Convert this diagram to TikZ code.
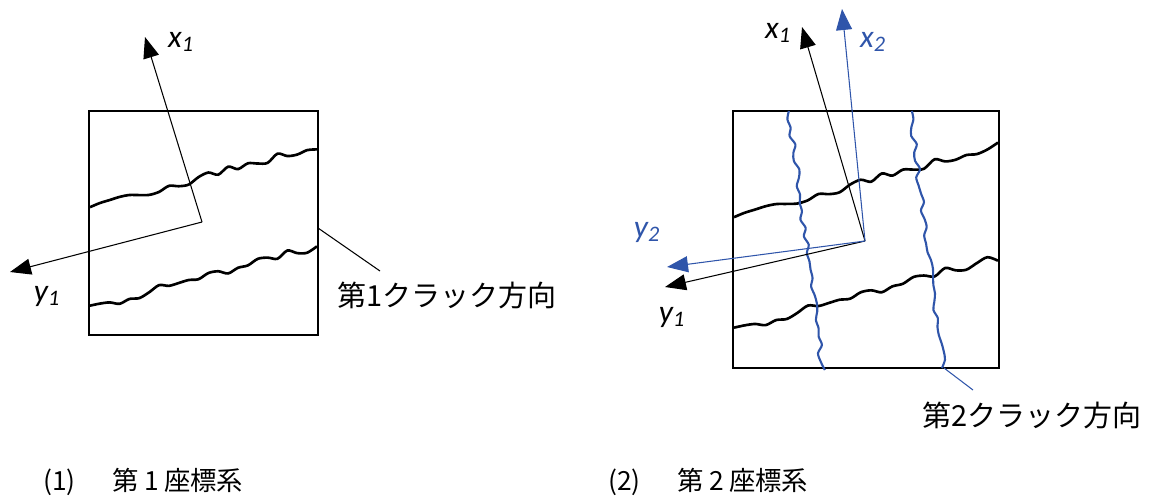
\documentclass[tikz,border=0pt]{standalone}
\usepackage{fontspec}
\setmainfont{Carlito}
\newfontfamily\jp{Noto Sans CJK JP}
\usetikzlibrary{arrows.meta}
\definecolor{aoi}{RGB}{47,85,170}
\tikzset{
 waku/.style={line width=0.75pt},
 jiku/.style={-{Triangle[length=0.42cm,width=0.32cm]},line width=0.6pt},
 kuro/.style={line width=1.5pt,line join=round},
 ao/.style={aoi,line width=1.2pt,line join=round},
 lab/.style={font=\fontsize{18}{21}\selectfont\itshape,inner sep=0pt},
 jlab/.style={font=\jp\fontsize{16.5}{20}\selectfont,inner sep=0pt,anchor=west},
 midashi/.style={font=\jp\fontsize{15}{18}\selectfont,inner sep=0pt,anchor=west},
}
\begin{document}
\begin{tikzpicture}[x=0.02cm,y=-0.02cm]
 \useasboundingbox (0,0) rectangle (1151,495); %全体
 % (1) 第1座標系
 \draw[waku] (89,111) rectangle (318,335); %要素
 \pgfmathsetseed{11}\draw[kuro] plot[smooth,domain=0:1,samples=24] ({90+227*\x},{207-60*\x+4.5*rand}); %第1クラック(上)
 \pgfmathsetseed{23}\draw[kuro] plot[smooth,domain=0:1,samples=24] ({90+227*\x},{308-61*\x+4.5*rand}); %第1クラック(下)
 \coordinate (O1) at (202,222); %原点
 \coordinate (X1) at (145,37); %x1の先
 \coordinate (Y1) at (10,272); %y1の先
 \draw[jiku] (O1)--(X1);
 \draw[jiku] (O1)--(Y1);
 \node[lab] (lx1) at (181,42) {x\textsubscript{1}};
 \node[lab] (ly1) at (47,296) {y\textsubscript{1}};
 \coordinate (k1) at (318,228); %引出線の元
 \coordinate (e1) at (380,271); %引出線の先
 \node[jlab] (lab1) at (337,295) {第1クラック方向};
 \draw[line width=0.6pt] (k1)--(e1);
 \node[midashi] (cap1) at (43,482) {(1)\hspace{1.4em}第\hspace{0.2em}1\hspace{0.2em}座標系};
 % (2) 第2座標系
 \draw[waku] (733,111) rectangle (999,368); %要素
 \pgfmathsetseed{11}\draw[kuro] plot[smooth,domain=0:1,samples=26] ({734+264*\x},{217-71*\x+4.5*rand}); %第1クラック(上)
 \pgfmathsetseed{23}\draw[kuro] plot[smooth,domain=0:1,samples=26] ({734+264*\x},{330-72*\x+4.5*rand}); %第1クラック(下)
 \pgfmathsetseed{5}\draw[ao] plot[smooth,domain=0:1,samples=32] ({789+34*\x+3*rand},{111+259*\x}); %第2クラック(左)
 \pgfmathsetseed{8}\draw[ao] plot[smooth,domain=0:1,samples=32] ({910+34*\x+3*rand},{111+257*\x}); %第2クラック(右)
 \coordinate (O2) at (865,241); %原点
 \coordinate (X21) at (802,27);
 \coordinate (Y21) at (665,287);
 \coordinate (X2) at (842,9);
 \coordinate (Y2) at (667,267);
 \draw[jiku] (O2)--(X21);
 \draw[jiku] (O2)--(Y21);
 \draw[jiku,aoi] (O2)--(X2);
 \draw[jiku,aoi] (O2)--(Y2);
 \node[lab] (lx21) at (778,33) {x\textsubscript{1}};
 \node[lab] (ly21) at (672,317) {y\textsubscript{1}};
 \node[lab,aoi] (lx2) at (873,42) {x\textsubscript{2}};
 \node[lab,aoi] (ly2) at (647,232) {y\textsubscript{2}};
 \coordinate (k2) at (944,368); %引出線の元
 \coordinate (e2) at (973,390); %引出線の先
 \node[jlab] (lab2) at (922,415) {第2クラック方向};
 \draw[aoi,line width=0.6pt] (k2)--(e2);
 \node[midashi] (cap2) at (608,482) {(2)\hspace{1.4em}第\hspace{0.2em}2\hspace{0.2em}座標系};
\end{tikzpicture}
\end{document}
